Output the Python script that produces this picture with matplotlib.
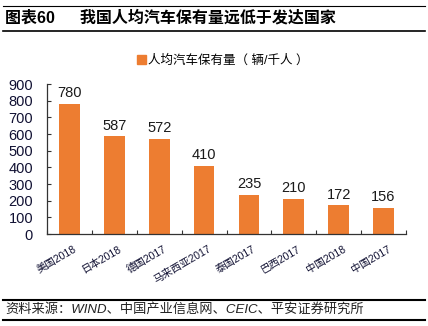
import matplotlib
matplotlib.use("Agg")
import matplotlib.pyplot as plt
from matplotlib.lines import Line2D
from matplotlib.patches import Patch

plt.rcParams['font.family'] = ['Liberation Sans', 'Noto Sans CJK SC', 'DejaVu Sans']

categories = ["美国2018", "日本2018", "德国2017", "马来西亚2017", "泰国2017", "巴西2017", "中国2018", "中国2017"]
values = [780, 587, 572, 410, 235, 210, 172, 156]
series_name = "人均汽车保有量（ 辆/千人 ）"
title = "图表60　  我国人均汽车保有量远低于发达国家"
source = "资料来源：WIND、中国产业信息网、CEIC、平安证券研究所"
yticks = [0, 100, 200, 300, 400, 500, 600, 700, 800, 900]

W, H = 428, 326
fig = plt.figure(figsize=(W/100, H/100), dpi=100)
ax = fig.add_axes([47/W, 1-234/H, (406-47)/W, 150/H])

color = "#ED7D31"
x = list(range(len(categories)))
ax.bar(x, values, width=0.46, color=color, zorder=2)
for xi, v in zip(x, values):
    ax.text(xi, v + 22, str(v), ha='center', va='bottom', fontsize=10.5, color='#1a1a1a')

ax.set_xlim(-0.5, len(categories)-0.5)
ax.set_ylim(0, 900)
ax.set_yticks(yticks)
ax.set_yticklabels([str(t) for t in yticks], fontsize=10.5, color='#111133')
ax.set_xticks([xi + 0.08 for xi in x])
ax.set_xticklabels(categories, rotation=30, ha='right', rotation_mode='anchor', fontsize=7.5, color='#111133')
ax.tick_params(axis='x', length=0, pad=7)
ax.set_xticks([i + 0.5 for i in range(-1, len(categories))], minor=True)
ax.tick_params(axis='x', which='minor', direction='in', length=3, width=0.8, color='#333333')
ax.tick_params(axis='y', direction='in', length=3, width=0.8, color='#333333', pad=10)
for s in ['top', 'right']:
    ax.spines[s].set_visible(False)
for s in ['left', 'bottom']:
    ax.spines[s].set_color('#333333')
    ax.spines[s].set_linewidth(0.9)

fig.legend(handles=[Patch(color=color, label=series_name)], loc='center',
           bbox_to_anchor=(223/W, 1-61/H), frameon=False, fontsize=9,
           handlelength=0.7, handleheight=0.7, handletextpad=0.2)

fig.text(5/W, 1-18/H, title, fontsize=11.5, fontweight='bold', va='center', ha='left', color='black')
fig.text(5/W, 1-309/H, source, fontsize=9.5, style='italic', va='center', ha='left', color='#222222')

def hline(y, lw):
    fig.add_artist(Line2D([3/W, 425/W], [1-y/H, 1-y/H], color='black', lw=lw, transform=fig.transFigure))
hline(6, 0.8)
hline(31, 1.2)
hline(300, 1.5)
hline(320, 1.5)

fig.savefig("out.png", dpi=100)
